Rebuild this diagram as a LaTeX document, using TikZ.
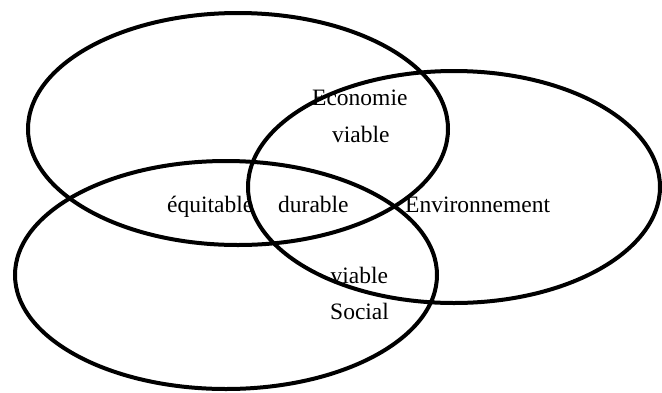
\documentclass[tikz,border=0pt]{standalone}
\usepackage{fontspec}
\setmainfont{Liberation Serif}
\begin{document}
\begin{tikzpicture}[x=1pt,y=-1pt,
  ring/.style={draw=black,line width=4pt},
  lbl/.style={inner sep=0pt,anchor=base west,font=\fontsize{23.5}{28}\selectfont}]
\useasboundingbox[fill=white] (0,0) rectangle (662,392);
\node[lbl] (eco) at (312,105) {Economie};
\node[lbl] (viab1) at (332,142) {viable};
\node[lbl] (equi) at (167,212) {équitable};
\node[lbl] (dura) at (278,212) {durable};
\node[lbl] (env) at (405,212) {Environnement};
\node[lbl] (viab2) at (330.5,283) {viable};
\node[lbl] (soc) at (330,319) {Social};
\draw[ring] (238,129) ellipse [x radius=210, y radius=116];
\draw[ring] (454,187) ellipse [x radius=206, y radius=116];
\draw[ring] (226,275) ellipse [x radius=211, y radius=114];
\end{tikzpicture}
\end{document}
